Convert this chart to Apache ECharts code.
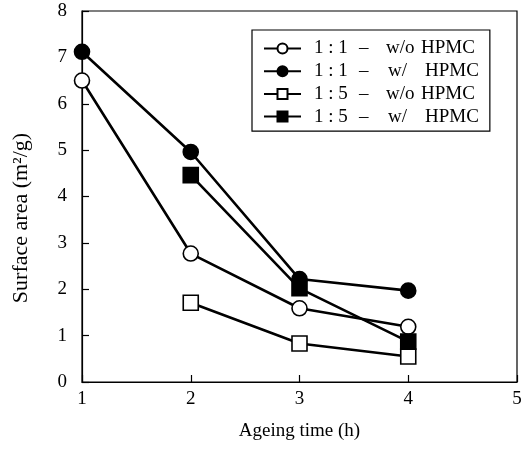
<!DOCTYPE html>
<html>
<head>
<meta charset="utf-8">
<style>
  html, body { margin: 0; padding: 0; background: #fff; }
  #chart { width: 525px; height: 453px; }
</style>
<script src="https://cdn.jsdelivr.net/npm/echarts@6/dist/echarts.min.js"></script>
</head>
<body>
<div id="chart"></div>
<script>
// Ageing time (h) on the x axis
const ageingTime = [1, 2, 3, 4];

// Surface area (m²/g) for each preparation
const ratio11NoHpmc = [6.5, 2.77, 1.59, 1.19];
const ratio11Hpmc = [7.12, 4.96, 2.22, 1.97];
const ratio15NoHpmc = [null, 1.71, 0.83, 0.55];
const ratio15Hpmc = [null, 4.46, 2.02, 0.87];

// Legend parts: ratio, and with / without HPMC
const seriesRatio = ['1 : 1', '1 : 1', '1 : 5', '1 : 5'];
const seriesAdditive = ['w/o', 'w/', 'w/o', 'w/'];
const seriesNames = ['1:1 w/o HPMC', '1:1 w/ HPMC', '1:5 w/o HPMC', '1:5 w/ HPMC'];

const yTicks = { min: 0, max: 8, interval: 1 };
const xTicks = { min: 1, max: 5, interval: 1 };

const FONT = "'Liberation Serif', 'Times New Roman', serif";
const FS = 19;

function pairs(values) {
  return ageingTime.map((t, i) => [t, values[i]]).filter(p => p[1] !== null);
}

function makeSeries(name, values, symbol, size, filled) {
  return {
    name: name,
    type: 'line',
    data: pairs(values),
    symbol: symbol,
    symbolSize: size,
    lineStyle: { color: '#000', width: 2.6 },
    itemStyle: {
      color: filled ? '#000' : '#fff',
      borderColor: '#000',
      borderWidth: 1.6
    },
    emphasis: { disabled: true },
    animation: false
  };
}

const richBase = { fontFamily: FONT, fontSize: FS, color: '#000' };

const chart = echarts.init(document.getElementById('chart'), null, { renderer: 'canvas' });

chart.setOption({
  backgroundColor: '#fff',
  textStyle: { fontFamily: FONT, color: '#000' },
  grid: {
    left: 82, right: 8, top: 11, bottom: 71,
    show: true, borderColor: '#000', borderWidth: 1.2
  },
  legend: {
    orient: 'vertical',
    left: 252,
    top: 30,
    padding: [9, 11, 5, 11],
    borderColor: '#000',
    borderWidth: 1.2,
    itemWidth: 37,
    itemHeight: 12.5,
    itemGap: 3.7,
    data: seriesNames,
    formatter: function (name) {
      const i = seriesNames.indexOf(name);
      const tag = seriesAdditive[i] === 'w/' ? 'e' : 'c';
      return '{a|' + seriesRatio[i] + '}{b|–}{' + tag + '|' + seriesAdditive[i] + '}{d|HPMC}';
    },
    textStyle: {
      fontFamily: FONT,
      fontSize: FS,
      color: '#000',
      padding: [0, 0, 0, 8],
      rich: {
        a: Object.assign({ width: 45 }, richBase),
        b: Object.assign({ width: 27 }, richBase),
        c: Object.assign({ width: 35 }, richBase),
        e: Object.assign({ width: 37, padding: [0, 0, 0, 2] }, richBase),
        d: Object.assign({}, richBase)
      }
    }
  },
  xAxis: {
    type: 'value',
    min: xTicks.min,
    max: xTicks.max,
    interval: xTicks.interval,
    name: 'Ageing time (h)',
    nameLocation: 'middle',
    nameGap: 40,
    nameTextStyle: { fontFamily: FONT, fontSize: FS, color: '#000' },
    axisLine: { lineStyle: { color: '#000', width: 1.2 } },
    axisTick: { inside: true, length: 7, lineStyle: { color: '#000', width: 1.2 } },
    axisLabel: { fontFamily: FONT, fontSize: FS, color: '#000', margin: 8 },
    splitLine: { show: false }
  },
  yAxis: {
    type: 'value',
    min: yTicks.min,
    max: yTicks.max,
    interval: yTicks.interval,
    name: 'Surface area (m²/g)',
    nameLocation: 'middle',
    nameGap: 50,
    nameTextStyle: { fontFamily: FONT, fontSize: 22, color: '#000', padding: [0, 43, 0, 0] },
    axisLine: { lineStyle: { color: '#000', width: 1.2 } },
    axisTick: { inside: true, length: 7, lineStyle: { color: '#000', width: 1.2 } },
    axisLabel: { fontFamily: FONT, fontSize: FS, color: '#000', margin: 15 },
    splitLine: { show: false }
  },
  series: [
    makeSeries(seriesNames[0], ratio11NoHpmc, 'circle', 15, false),
    makeSeries(seriesNames[1], ratio11Hpmc, 'circle', 15, true),
    makeSeries(seriesNames[2], ratio15NoHpmc, 'rect', 15, false),
    makeSeries(seriesNames[3], ratio15Hpmc, 'rect', 15, true)
  ]
});
</script>
</body>
</html>
